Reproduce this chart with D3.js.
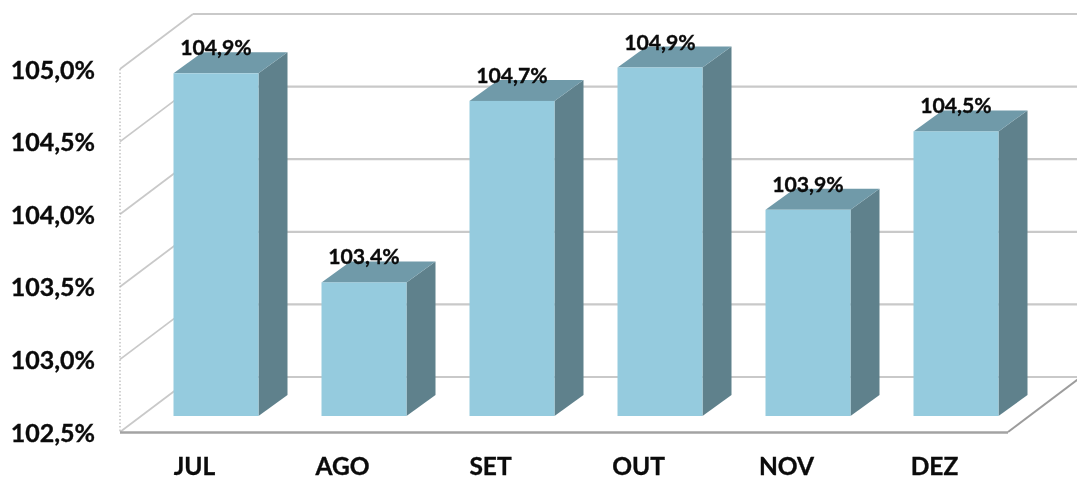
<!DOCTYPE html>
<html><head><meta charset="utf-8">
<script src="https://cdn.jsdelivr.net/npm/d3@7"></script>
<style>html,body{margin:0;padding:0;background:#fff;overflow:hidden}svg{display:block;filter:blur(0.35px)}
text{font-family:Lato,"Open Sans",sans-serif;fill:#0b0b0b;stroke:#0b0b0b;stroke-width:0.35px}</style></head><body>
<svg id="c" width="1077" height="480"></svg>
<script>
const months = ["JUL","AGO","SET","OUT","NOV","DEZ"];
const values = [104.86,103.42,104.67,104.9,103.92,104.46];
const ticks = [102.5,103,103.5,104,104.5,105];

const svg = d3.select("#c");
const fmt = v => d3.format(".1f")(v).replace(".",",")+"%";
const y = d3.scaleLinear().domain([102.5,105]).range([432,69]);
const x = d3.scaleBand().domain(months).range([120,1008]);
const wall = {dx:73, dy:-55};
const barShift = {dx:22, dy:-16};
const barDepth = {dx:29, dy:-21};
const barW = 85;

const grid = svg.append("g").attr("fill","none");
grid.selectAll(".back").data(ticks).join("line")
  .attr("x1",120+wall.dx).attr("x2",1077)
  .attr("y1",d=>y(d)+wall.dy).attr("y2",d=>y(d)+wall.dy)
  .attr("stroke","#c9c9c9").attr("stroke-width",2.2);
grid.selectAll(".side").data(ticks).join("line")
  .attr("x1",120).attr("x2",120+wall.dx)
  .attr("y1",d=>y(d)).attr("y2",d=>y(d)+wall.dy)
  .attr("stroke","#c9c9c9").attr("stroke-width",1.8);
svg.append("line").attr("x1",120).attr("x2",120).attr("y1",y(105)).attr("y2",y(102.5))
  .attr("stroke","#b5b5b5").attr("stroke-width",1.2).attr("stroke-dasharray","1.5 2");
svg.append("line").attr("x1",x.range()[1]).attr("x2",x.range()[1]+wall.dx)
  .attr("y1",y(102.5)).attr("y2",y(102.5)+wall.dy)
  .attr("stroke","#9c9c9c").attr("stroke-width",2);
svg.append("line").attr("x1",120).attr("x2",x.range()[1]).attr("y1",y(102.5)+0.5).attr("y2",y(102.5)+0.5)
  .attr("stroke","#a3a3a3").attr("stroke-width",2.6);

const xc = d => x(d) + (x.bandwidth()-barW)/2 + barShift.dx;
const yf = v => y(v) + barShift.dy;
const bars = svg.append("g").selectAll("g").data(months.map((m,i)=>({m,v:values[i]}))).join("g");
bars.append("path").attr("fill","#5f818c").attr("d",d=>{
  const a=xc(d.m)+barW,t=yf(d.v),b=yf(102.5);
  return `M${a},${t}L${a+barDepth.dx},${t+barDepth.dy}L${a+barDepth.dx},${b+barDepth.dy}L${a},${b}Z`;});
bars.append("path").attr("fill","#709aa9").attr("d",d=>{
  const l=xc(d.m),t=yf(d.v);
  return `M${l},${t}L${l+barDepth.dx},${t+barDepth.dy}L${l+barW+barDepth.dx},${t+barDepth.dy}L${l+barW},${t}Z`;});
bars.append("rect").attr("fill","#95cbde")
  .attr("x",d=>xc(d.m)).attr("width",barW)
  .attr("y",d=>yf(d.v)).attr("height",d=>yf(102.5)-yf(d.v));
bars.append("text").attr("text-anchor","middle").attr("font-weight",700).attr("font-size",21.2)
  .attr("x",d=>xc(d.m)+barW/2).attr("y",d=>yf(d.v)-18)
  .text(d=>fmt(d.v));

svg.append("g").selectAll("text").data(ticks).join("text")
  .attr("text-anchor","end").attr("font-weight",700).attr("font-size",25)
  .attr("x",95).attr("y",d=>y(d)+9.5).text(fmt);
svg.append("g").selectAll("text").data(months).join("text")
  .attr("text-anchor","middle").attr("font-weight",700).attr("font-size",24.5)
  .attr("x",d=>x(d)+x.bandwidth()/2+0.5).attr("y",474.5).text(d=>d);
</script></body></html>
